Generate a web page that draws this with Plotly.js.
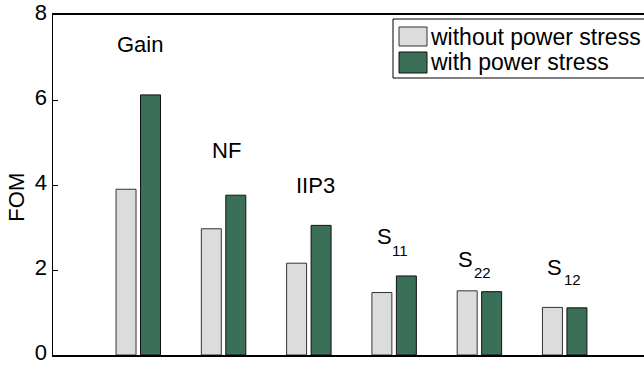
<!DOCTYPE html>
<html>
<head>
<meta charset="utf-8">
<script src="https://cdn.plot.ly/plotly-3.0.1.min.js"></script>
<style>html,body{margin:0;padding:0;background:#fff;}#chart{width:644px;height:365px;}</style>
</head>
<body>
<div id="chart"></div>
<script>
var categories = ["Gain", "NF", "IIP3", "S11", "S22", "S12"];
var labelMain = ["Gain", "NF", "IIP3", "S", "S", "S"];
var labelSub = ["", "", "", "11", "22", "12"];
var seriesNames = ["without power stress", "with power stress"];
var withoutStress = [3.9, 2.97, 2.16, 1.47, 1.51, 1.12];
var withStress = [6.12, 3.76, 3.05, 1.86, 1.49, 1.11];
var yTicks = [0, 2, 4, 6, 8];

var FONT = "Liberation Sans, Arial, Helvetica, sans-serif";
var colors = ["#dcdcdc", "#3b6f57"];

var traces = [
  {type: "bar", name: seriesNames[0], x: categories, y: withoutStress,
   marker: {color: colors[0], line: {color: "#333", width: 1}}, showlegend: false, hoverinfo: "y"},
  {type: "bar", name: seriesNames[1], x: categories, y: withStress,
   marker: {color: colors[1], line: {color: "#111", width: 1}}, showlegend: false, hoverinfo: "y"}
];

// label placement (text positions, not data)
var mainShift = [2, 3, 7, -10, -13.5, -10];
var mainY = [7.3, 4.81, 4.0, 2.78, 2.24, 2.07];
var subShift = [0, 0, 0, 5.5, 3.5, 8];
var subY = [0, 0, 0, 2.47, 1.93, 1.765];

var annotations = [];
categories.forEach(function (c, i) {
  annotations.push({x: c, y: mainY[i], xref: "x", yref: "y", text: labelMain[i], showarrow: false,
          xshift: mainShift[i], yanchor: "middle", font: {family: FONT, size: 22, color: "#000"}});
  if (labelSub[i]) {
    annotations.push({x: c, y: subY[i], xref: "x", yref: "y", text: labelSub[i], showarrow: false,
          xshift: subShift[i], yanchor: "middle", font: {family: FONT, size: 15, color: "#000"}});
  }
});

// custom legend (large swatches like the reference)
var shapes = [
  {type: "rect", xref: "paper", yref: "paper", x0: (393 - 53) / 591, x1: 1.1, y0: (355 - 78) / 340, y1: (355 - 19) / 340,
   line: {color: "#000", width: 1}, fillcolor: "#fff"},
  {type: "rect", xref: "paper", yref: "paper", x0: (399 - 53) / 591, x1: (427 - 53) / 591, y0: (355 - 46) / 340, y1: (355 - 27) / 340,
   line: {color: "#333", width: 1}, fillcolor: colors[0]},
  {type: "rect", xref: "paper", yref: "paper", x0: (399 - 53) / 591, x1: (427 - 53) / 591, y0: (355 - 73) / 340, y1: (355 - 52) / 340,
   line: {color: "#111", width: 1}, fillcolor: colors[1]}
];
annotations.push({xref: "paper", yref: "paper", x: (428 - 53) / 591, y: (355 - 36.5) / 340, xanchor: "left", yanchor: "middle",
  text: seriesNames[0], showarrow: false, font: {family: FONT, size: 23, color: "#000"}});
annotations.push({xref: "paper", yref: "paper", x: (428 - 53) / 591, y: (355 - 62.5) / 340, xanchor: "left", yanchor: "middle",
  text: seriesNames[1], showarrow: false, font: {family: FONT, size: 23, color: "#000"}});

var layout = {
  width: 644, height: 365,
  margin: {l: 53, r: 0, t: 15, b: 10},
  paper_bgcolor: "#fff", plot_bgcolor: "#fff",
  font: {family: FONT, size: 22, color: "#000"},
  barmode: "group", bargap: 0.426, bargroupgap: 0.184,
  showlegend: false,
  xaxis: {type: "category", categoryorder: "array", categoryarray: categories, range: [-1, 5.93],
          showticklabels: false, ticks: "", showgrid: false, zeroline: false,
          showline: true, linecolor: "#000", linewidth: 1.8, mirror: true, fixedrange: true},
  yaxis: {range: [0, 8], tickvals: yTicks, ticktext: yTicks.map(String), ticks: "inside", ticklen: 5,
          ticklabeloverflow: "allow", ticklabelshift: -3,
          tickcolor: "#000", showgrid: false, zeroline: false, showline: true, linecolor: "#000", linewidth: 1.5,
          tickfont: {family: FONT, size: 22, color: "#000"},
          title: {text: "FOM&nbsp;&nbsp;&nbsp;&nbsp;", font: {family: FONT, size: 22, color: "#000"}, standoff: 4}, fixedrange: true},
  annotations: annotations,
  shapes: shapes
};

Plotly.newPlot("chart", traces, layout, {displayModeBar: false, staticPlot: true});
</script>
</body>
</html>
